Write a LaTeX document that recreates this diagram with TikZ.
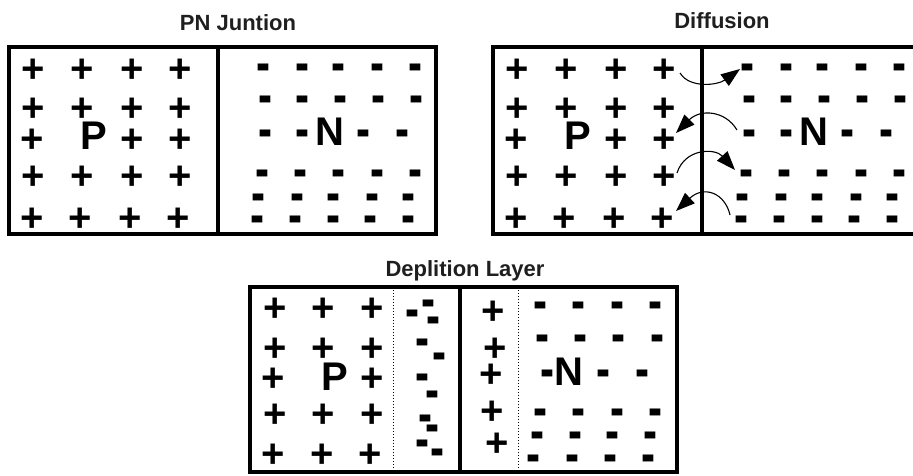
\documentclass[tikz,border=0pt]{standalone}
\usepackage{fontspec}
\setmainfont{Liberation Sans}
\usetikzlibrary{arrows.meta}
\newcommand\chgfont{\fontsize{40}{40}\selectfont\bfseries}
\newcommand\ttlfont{\fontsize{22}{22}\selectfont\bfseries}
\newcommand\mns{\scalebox{1.05}[1.45]{-}}
\tikzset{
  plusc/.style={inner sep=0pt, outer sep=0pt, font=\chgfont, anchor=base, yshift=-14pt},
  minusc/.style={inner sep=0pt, outer sep=0pt, font=\chgfont, anchor=base, yshift=-15pt},
  letter/.style={inner sep=0pt, outer sep=0pt, font=\chgfont},
  ttl/.style={inner sep=0pt, anchor=base, font=\ttlfont, text=black!88},
  frame/.style={line width=3.2pt},
  junc/.style={line width=4.6pt},
  dots/.style={line width=1pt, dotted},
  flow/.style={line width=1.1pt, -{Triangle[length=19pt,width=14pt]}}
}
\begin{document}
\begin{tikzpicture}[x=1pt,y=-1pt]
\clip (0,0) rectangle (913,475);
\fill[white] (0,0) rectangle (913,475);

% titles
\node[ttl] (t1) at (238,30) {PN Juntion};
\node[ttl] (t2) at (722,28) {Diffusion};
\node[ttl] (t3) at (465,276) {Deplition Layer};

% boxes 1 and 2 (box 2 = box 1 shifted)
\foreach \b/\dx in {a/0,b/484}{
  \begin{scope}[xshift=\dx pt]
  \draw[frame] (9,47) rectangle (436,234);
  \draw[junc] (218,47) -- (218,234);
  % P side
  \foreach \x/\y/\n in {33/68/11,82/68/12,132/68/13,180/68/14,
                        33/107/21,82/107/22,132/107/23,180/107/24,
                        32/138/31,132/138/33,180/138/34,
                        33/175/41,82/175/42,132/175/43,180/175/44,
                        32/217/51,80/217/52,130/217/53,178/217/54}
    \node[plusc] (\b p\n) at (\x,\y) {+};
  \node[letter] (\b P) at (94,136) {P};
  % N side
  \foreach \x/\y/\n in {263/67/11,302/67/12,338/67/13,377/67/14,415/67/15,
                        265/99/21,302/99/22,340/99/23,378/99/24,416/99/25,
                        265/133/31,302/133/32,363/133/34,402/133/35,
                        262/173/41,300/173/42,338/173/43,377/173/44,415/173/45,
                        258/197/51,297/197/52,333/197/53,372/197/54,408/197/55,
                        257/219/61,295/219/62,333/219/63,370/219/64,408/219/65}
    \node[minusc] (\b m\n) at (\x,\y) {\mns};
  \node[letter] (\b N) at (330,132) {N};
  \end{scope}
}

% diffusion arrows
\draw[flow] (680,73) coordinate (f1s) .. controls +(10,16) and +(-22,16) .. (740,69) coordinate (f1e);
\draw[flow] (737,130) coordinate (f2s) .. controls +(-12,-20) and +(24,-24) .. (676,133) coordinate (f2e);
\draw[flow] (677,173) coordinate (f3s) .. controls +(8,-25) and +(-20,-22) .. (735,170) coordinate (f3e);
\draw[flow] (730,215) coordinate (f4s) .. controls +(-5,-22) and +(28,-26) .. (676,211) coordinate (f4e);

% box 3
\draw[frame] (250,287) rectangle (677,472);
\draw[junc] (460,287) -- (460,472);
\draw[dots] (393,287) -- (393,472);
\draw[dots] (518,287) -- (518,472);
\foreach \x/\y/\n in {275/307/11,323/307/12,372/307/13,
                      275/347/21,323/347/22,372/347/23,
                      273/377/31,372/377/33,
                      275/413/41,323/413/42,372/413/43,
                      273/453/51,322/453/52,370/453/53}
  \node[plusc] (cp\n) at (\x,\y) {+};
\node[letter] (cP) at (335,377) {P};
\foreach \x/\y/\n in {412/313/1,428/303/2,433/320/3,422/342/4,439/356/5,
                      422/377/6,432/394/7,425/418/8,432/428/9,422/443/10,437/452/11}
  \node[minusc] (cd\n) at (\x,\y) {\mns};
\foreach \x/\y/\n in {493/310/1,495/347/2,491/373/3,492/410/4,497/442/5}
  \node[plusc] (cq\n) at (\x,\y) {+};
\foreach \x/\y/\n in {540/305/11,578/305/12,617/305/13,655/305/14,
                      542/338/21,580/338/22,618/338/23,657/338/24,
                      547/373/31,603/373/33,642/373/34,
                      540/412/41,578/412/42,617/412/43,655/412/44,
                      537/435/51,575/435/52,612/435/53,650/435/54,
                      533/458/61,572/458/62,610/458/63,648/458/64}
  \node[minusc] (cm\n) at (\x,\y) {\mns};
\node[letter] (cN) at (569,372) {N};
\end{tikzpicture}
\end{document}
